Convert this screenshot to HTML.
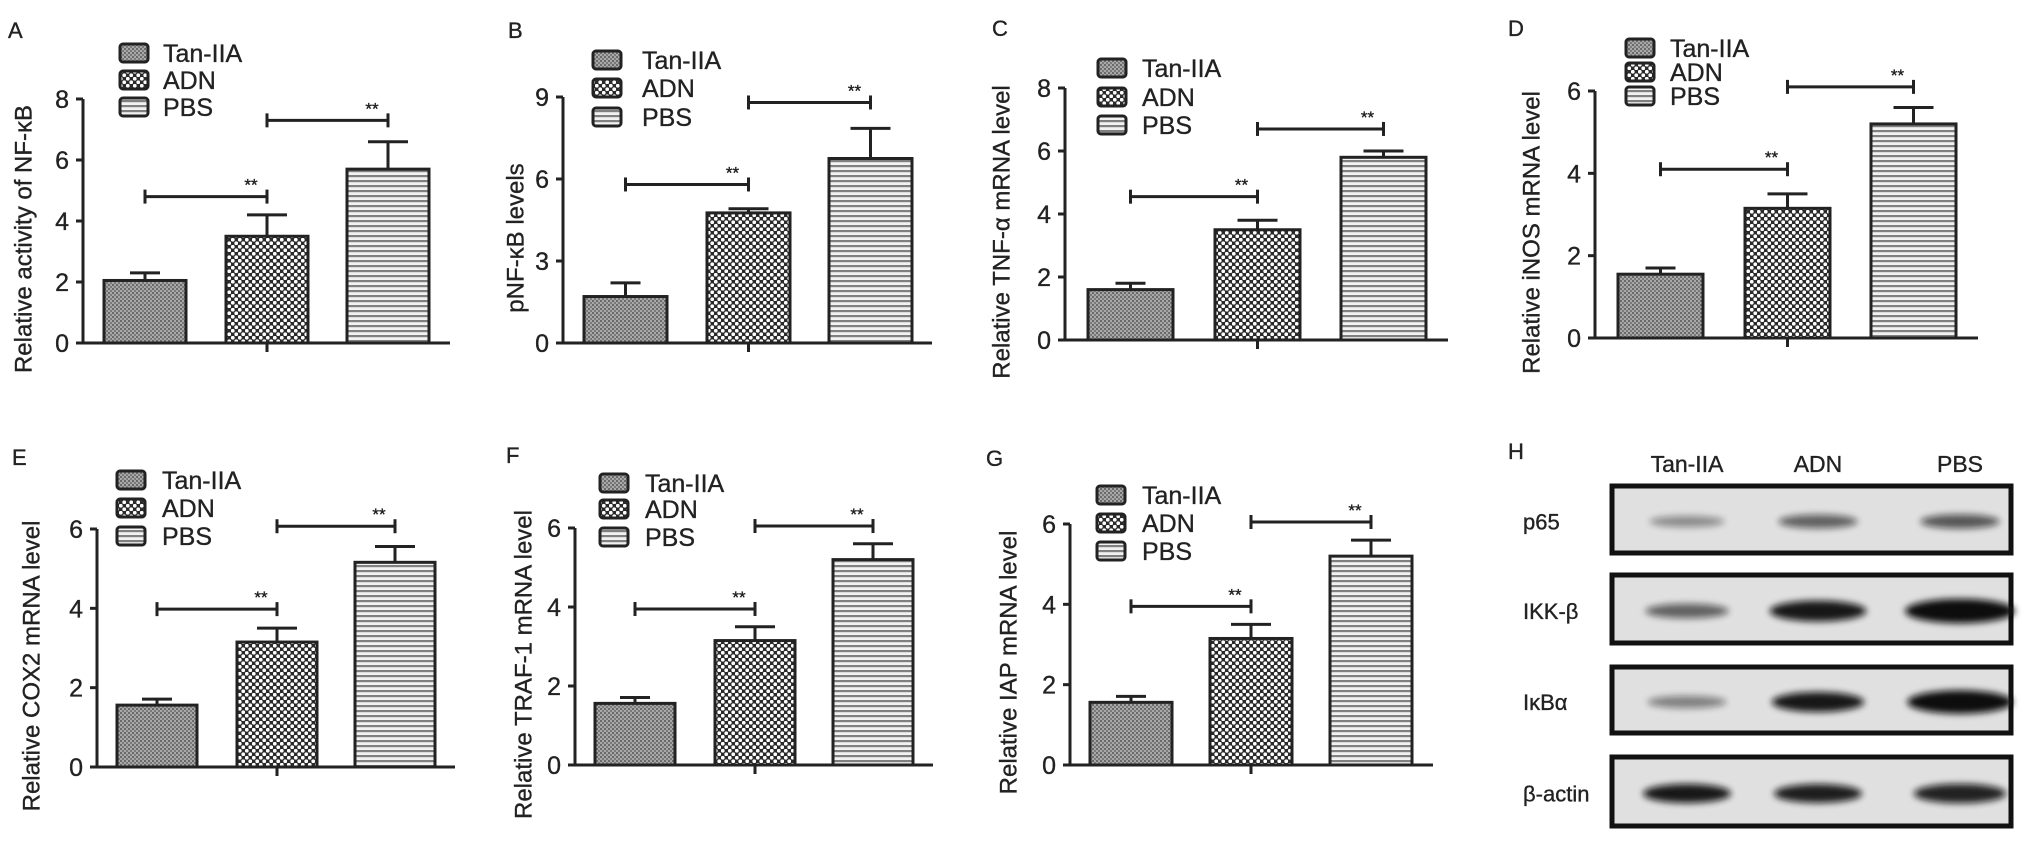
<!DOCTYPE html>
<html><head><meta charset="utf-8"><style>
html,body{margin:0;padding:0;background:#fff;}
svg{display:block;font-family:"Liberation Sans",Arial,sans-serif;}
text{stroke:#222;stroke-width:0.35px;}
</style></head><body>
<svg id="s" width="2031" height="842" viewBox="0 0 2031 842" xmlns="http://www.w3.org/2000/svg">
<defs>
<pattern id="pT" width="4" height="4" patternUnits="userSpaceOnUse"><rect width="4" height="4" fill="#a8a8a8"/><rect x="0" y="0" width="2" height="2" fill="#6a6a6a"/><rect x="2" y="2" width="2" height="2" fill="#7a7a7a"/></pattern>
<pattern id="pA" width="7" height="7" patternUnits="userSpaceOnUse"><rect width="7" height="7" fill="#2a2a2a"/><circle cx="1.75" cy="1.75" r="1.9" fill="#fff"/><circle cx="5.25" cy="5.25" r="1.9" fill="#fff"/></pattern>
<pattern id="pP" width="5" height="5" patternUnits="userSpaceOnUse"><rect width="5" height="5" fill="#f2f2f2"/><rect y="0" width="5" height="2.2" fill="#808080"/></pattern>
<filter id="bl" x="-20%" y="-100%" width="140%" height="300%"><feGaussianBlur stdDeviation="3.5"/></filter>
</defs>
<g id="g"></g>
</svg>
<script>
var g=document.getElementById('g'),h='';
function L(x1,y1,x2,y2,w){h+='<line x1="'+x1+'" y1="'+y1+'" x2="'+x2+'" y2="'+y2+'" stroke="#222" stroke-width="'+(w||3)+'"/>';}
function T(x,y,t,s,a,ex){h+='<text x="'+x+'" y="'+y+'" font-size="'+s+'" fill="#222" text-anchor="'+(a||'start')+'" '+(ex||'')+'>'+t+'</text>';}
var P=[
{ax:83,y0:343,yt:99,mx:8,st:2,end:450,bx:[104,226,347],bw:82,v:[2.05,3.5,5.7],e:[0.25,0.7,0.9],br:[4.8,7.3],t:'Relative activity of NF-κB',tx:25,lab:'A',lx:8,ly:25,sx:120,txl:163,ry:[53,80,107]},
{ax:563,y0:343,yt:97,mx:9,st:3,end:932,bx:[584,707,829],bw:83,v:[1.7,4.76,6.75],e:[0.5,0.15,1.1],br:[5.8,8.8],t:'pNF-κB levels',tx:517,lab:'B',lx:508,ly:25,sx:593,txl:642,ry:[60,88,117]},
{ax:1065,y0:340,yt:88,mx:8,st:2,end:1448,bx:[1088,1215,1341],bw:85,v:[1.6,3.5,5.8],e:[0.2,0.3,0.2],br:[4.55,6.7],t:'Relative TNF-α mRNA level',tx:1003,lab:'C',lx:992,ly:23,sx:1098,txl:1142,ry:[68,97,125]},
{ax:1595,y0:338,yt:91,mx:6,st:2,end:1978,bx:[1618,1745,1871],bw:85,v:[1.55,3.15,5.2],e:[0.15,0.35,0.4],br:[4.1,6.1],t:'Relative iNOS mRNA level',tx:1533,lab:'D',lx:1508,ly:23,sx:1626,txl:1670,ry:[48,72,96]},
{ax:97,y0:767,yt:529,mx:6,st:2,end:455,bx:[117,237,355],bw:80,v:[1.56,3.15,5.16],e:[0.15,0.35,0.4],br:[3.98,6.07],t:'Relative COX2 mRNA level',tx:33,lab:'E',lx:12,ly:452,sx:117,txl:162,ry:[480,508,536]},
{ax:575,y0:765,yt:528,mx:6,st:2,end:933,bx:[595,715,833],bw:80,v:[1.56,3.15,5.2],e:[0.15,0.35,0.4],br:[3.95,6.05],t:'Relative TRAF-1 mRNA level',tx:525,lab:'F',lx:506,ly:450,sx:600,txl:645,ry:[483,509,537]},
{ax:1070,y0:765,yt:524,mx:6,st:2,end:1433,bx:[1090,1210,1330],bw:82,v:[1.56,3.15,5.2],e:[0.15,0.35,0.4],br:[3.95,6.05],t:'Relative IAP mRNA level',tx:1010,lab:'G',lx:986,ly:453,sx:1097,txl:1142,ry:[495,523,551]}
];
var pats=['pT','pA','pP'],names=['Tan-IIA','ADN','PBS'];
P.forEach(function(p){
 var u=(p.y0-p.yt)/p.mx; function Y(v){return p.y0-v*u;}
 T(p.lx,p.ly+7,p.lab,22,'start','dominant-baseline="middle"');
 for(var i=0;i<3;i++){h+='<rect x="'+p.sx+'" y="'+(p.ry[i]-9)+'" width="28" height="18" rx="3" fill="url(#'+pats[i]+')" stroke="#222" stroke-width="3"/>';T(p.txl,p.ry[i]+9,names[i],25);}
 L(p.ax,p.yt,p.ax,p.y0+1.5);L(p.ax-7,p.y0,p.end,p.y0);
 for(var v=0;v<=p.mx;v+=p.st){var y=Y(v);L(p.ax-7,y,p.ax,y);T(p.ax-14,y+9,v,25,'end');}
 var cy=(p.y0+p.yt)/2+18;
 h+='<text x="'+p.tx+'" y="'+cy+'" font-size="24" fill="#222" text-anchor="middle" dominant-baseline="middle" transform="rotate(-90 '+p.tx+' '+cy+')">'+p.t+'</text>';
 var c=[];
 for(var i=0;i<3;i++){
  var x=p.bx[i],w=p.bw,yt=Y(p.v[i]);c.push(x+w/2);
  var ye=Y(p.v[i]+p.e[i]),cw=i==0?30:40;
  L(x+w/2,yt,x+w/2,ye);L(x+w/2-cw/2,ye,x+w/2+cw/2,ye);
  h+='<rect x="'+x+'" y="'+yt+'" width="'+w+'" height="'+(p.y0-yt)+'" fill="url(#'+pats[i]+')" stroke="#222" stroke-width="3"/>';
 }
 L(c[1],p.y0,c[1],p.y0+9);
 for(var k=0;k<2;k++){var y=Y(p.br[k]),a=c[k],b=c[k+1];L(a,y,b,y);L(a,y-7,a,y+7);L(b,y-7,b,y+7);T(b-16,y-6,'**',17,'middle');}
});
T(1508,459,'H',22);
T(1687,472,'Tan-IIA',23,'middle');T(1818,472,'ADN',23,'middle');T(1960,472,'PBS',23,'middle');
var rows=[[484,555,'p65',[0.4,0.6,0.65],[0.85,0.9,0.9]],[573,645,'IKK-β',[0.6,0.95,1],[0.95,1.1,1.25]],[665,735,'IκBα',[0.45,0.95,1],[0.9,1.05,1.2]],[755,828,'β-actin',[0.95,0.92,0.9],[1,1,1.05]]];
var cx=[1687,1818,1960];
rows.forEach(function(r){
 h+='<rect x="1612" y="'+(r[0]+2)+'" width="399" height="'+(r[1]-r[0]-4)+'" fill="#e0e0e0" stroke="#111" stroke-width="5"/>';
 var my=(r[0]+r[1])/2+2;
 for(var i=0;i<3;i++){var o=r[3][i],s=r[4][i];
  h+='<ellipse cx="'+cx[i]+'" cy="'+my+'" rx="'+(44*s)+'" ry="'+(7.5*s*(0.6+o*0.7))+'" fill="#111" opacity="'+o+'" filter="url(#bl)"/>';}
 T(1523,my+8,r[2],22);
});
g.innerHTML=h;
</script>
</body></html>
